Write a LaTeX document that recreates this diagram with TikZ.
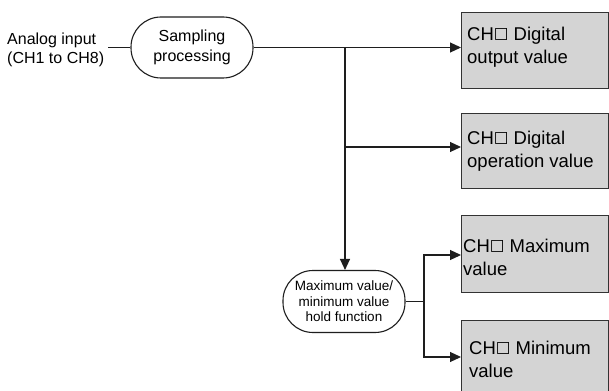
\documentclass[tikz,border=0pt]{standalone}
\usepackage{fontspec}
\setmainfont{Liberation Sans}
\newfontfamily\dejavusq{DejaVu Sans}
\newcommand\chsq{\raisebox{1.8pt}{\dejavusq\bfseries\fontsize{15.5}{15.5}\selectfont □}}
\usetikzlibrary{arrows.meta,calc}
\definecolor{boxfill}{HTML}{D4D4D4}
\definecolor{linecol}{HTML}{1E1E1E}
\definecolor{boxedge}{HTML}{333333}
\tikzset{
  conn/.style={draw=linecol,line width=1.1pt},
  arr/.style={conn,-{Triangle[length=11pt,width=10pt]}},
  roundbox/.style={draw=linecol,line width=1.1pt,fill=white,align=center,inner sep=0pt},
  valbox/.style={draw=boxedge,line width=1.1pt,fill=boxfill,inner sep=0pt,anchor=north west},
  valtext/.style={anchor=north west,align=left,inner sep=0pt,
    font=\fontsize{18.5}{22.5}\selectfont},
}
\begin{document}
\begin{tikzpicture}[x=1pt,y=-1pt]
\clip (0,0) rectangle (609,390);
\fill[white] (0,0) rectangle (609,390);
% input text
\node[anchor=west,align=left,inner sep=0pt,font=\fontsize{16}{19}\selectfont] (ain) at (7,49.5)
  {Analog input\\(CH1 to CH8)};
% sampling
\node[roundbox,minimum width=122pt,minimum height=61pt,rounded corners=30pt,
  font=\fontsize{16}{20}\selectfont] (samp) at (192,47.5) {Sampling\\processing};
% hold function
\node[roundbox,minimum width=122pt,minimum height=62pt,rounded corners=30pt,
  font=\fontsize{13.5}{15.5}\selectfont] (hold) at (344,301.5)
  {Maximum value/\\minimum value\\hold function};
% value boxes
\node[valbox,minimum width=147pt,minimum height=76pt] (b1) at (461,12) {};
\node[valbox,minimum width=147pt,minimum height=75pt] (b2) at (461,113) {};
\node[valbox,minimum width=147pt,minimum height=77pt] (b3) at (461,215) {};
\node[valbox,minimum width=147pt,minimum height=90pt] (b4) at (461,320) {};
\node[valtext] (t1) at ($(b1.north west)+(6,15)$) {CH\chsq{} Digital\\output value};
\node[valtext] (t2) at ($(b2.north west)+(6,18)$) {CH\chsq{} Digital\\operation value};
\node[valtext] (t3) at ($(b3.north west)+(2,24)$) {CH\chsq{} Maximum\\value};
\node[valtext] (t4) at ($(b4.north west)+(8,21)$) {CH\chsq{} Minimum\\value};
% connectors
\coordinate (inl) at (108,47.5);
\coordinate (j1) at (345,47.5);
\coordinate (j2) at (345,147);
\coordinate (j3) at (424,301.5);
\coordinate (k3) at (424,255);
\coordinate (k4) at (424,357);
\draw[conn] (inl) -- (samp.west);
\draw[arr] (samp.east) -- (samp.east -| b1.west);
\draw[arr] (j1) -- (j1 |- hold.north);
\draw[arr] (j2) -- (j2 -| b2.west);
\draw[conn] (hold.east) -- (j3);
\draw[arr] (j3) -- (k3) -- (k3 -| b3.west);
\draw[arr] (j3) -- (k4) -- (k4 -| b4.west);
\end{tikzpicture}
\end{document}
